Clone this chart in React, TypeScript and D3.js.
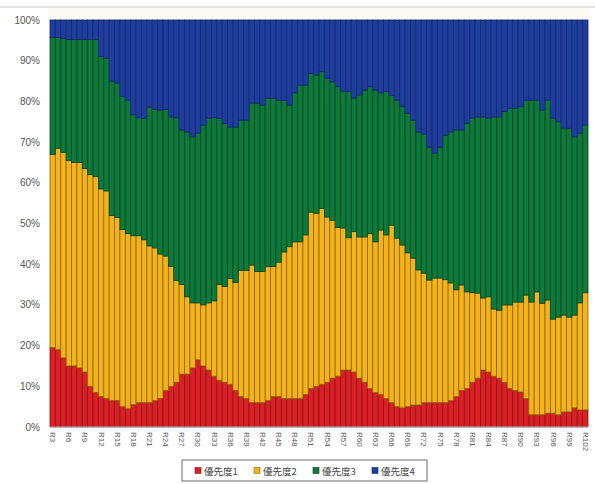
import React from "react";
import * as d3 from "d3";

// R3 .. R102
const categories = d3.range(3, 103).map(n => `R${n}`);
const seriesNames = ["優先度1", "優先度2", "優先度3", "優先度4"];

// share of each priority per period (%)
const prio1 = [
  19.5, 19, 17, 15, 15, 14.5, 13.5, 10, 8.5, 7.5, 7, 6.5, 6.5, 5, 4.5, 5.5, 6, 6, 6, 6.5,
  7, 9, 10, 11, 13, 13, 14.5, 16.5, 15, 14, 12.5, 11.5, 11, 10.5, 9, 7.5, 7, 6, 6, 6,
  6.5, 7.5, 7.5, 7, 7, 7, 7, 8, 9.5, 10, 10.5, 11, 12, 12.5, 14, 14, 13.5, 12, 11, 9.5,
  8.5, 8, 7, 6, 5, 4.7, 5, 5.4, 5.4, 6, 6, 6, 6, 6, 6.5, 7.5, 9, 9.5, 11, 12,
  14, 13.5, 12.5, 12, 11, 9.5, 9, 8.6, 7, 3, 3, 3, 3.4, 3.4, 3, 3.7, 3.7, 4.7, 4.2, 4.2,
];
const prio2 = [
  47.5, 49.5, 50.5, 50.5, 50, 50.5, 50, 52, 53, 51, 51, 45.5, 45, 43.5, 43, 41.5, 41, 40, 38.5, 37.5,
  35.5, 33, 29.5, 25, 22, 19, 16, 14, 15, 16.5, 18.5, 23.5, 23.5, 26, 26.5, 31, 31.5, 33.8, 32.2, 32.2,
  32.9, 31.9, 33, 36, 37.3, 38.5, 38.5, 39.2, 43.3, 42.5, 43.2, 40.6, 38.8, 36.5, 34.9, 32.5, 34.5, 34.7, 35.7, 38,
  37, 40.4, 40.2, 43.6, 41.4, 40, 37.8, 36.1, 33.2, 31.8, 30.1, 30.6, 30.6, 30.2, 28.9, 26.2, 25.9, 23.7, 22, 20.9,
  17.7, 18.5, 16.5, 16.7, 19, 20.5, 21.7, 22.1, 25.4, 27.7, 30.2, 27.4, 27.8, 23.1, 24, 23.8, 23.3, 22.8, 26.3, 28.8,
];
const prio3 = [
  28.7, 27.2, 28, 29.7, 30.2, 30.2, 31.7, 33.2, 33.7, 32.5, 32.6, 33, 33, 32.7, 32.8, 29.7, 29, 29.8, 34.1, 34,
  35.4, 36, 36.7, 40, 38, 40.5, 40.8, 41.7, 44.2, 45.4, 45, 40.8, 40.1, 37.2, 38.2, 36.9, 36.9, 39.8, 41.4, 40.9,
  41.4, 41.4, 39.8, 37.3, 34.8, 36.6, 38.5, 36.8, 34.1, 34, 33.6, 34.1, 34, 34.6, 33.6, 36, 32.8, 34.9, 36.1, 36.1,
  37.3, 33.7, 35.3, 31.9, 33.9, 34, 34.3, 33.9, 33.9, 34.2, 32.7, 30.7, 32.2, 35.5, 37.1, 39.3, 38.1, 41.4, 42.9, 43.3,
  44.5, 43.9, 47.2, 47.5, 47.5, 48.3, 47.6, 48, 47.9, 49.6, 47.1, 47.5, 49.1, 49.4, 48, 45.9, 46.4, 43.8, 41.7, 41.2,
];
const prio4 = [
  4.3, 4.3, 4.5, 4.8, 4.8, 4.8, 4.8, 4.8, 4.8, 9, 9.4, 15, 15.5, 18.8, 19.7, 23.3, 24, 24.2, 21.4, 22,
  22.1, 22, 23.8, 24, 27, 27.5, 28.7, 27.8, 25.8, 24.1, 24, 24.2, 25.4, 26.3, 26.3, 24.6, 24.6, 20.4, 20.4, 20.9,
  19.2, 19.2, 19.7, 19.7, 20.9, 17.9, 16, 16, 13.1, 13.5, 12.7, 14.3, 15.2, 16.4, 17.5, 17.5, 19.2, 18.4, 17.2, 16.4,
  17.2, 17.9, 17.5, 18.5, 19.7, 21.3, 22.9, 24.6, 27.5, 28, 31.2, 32.7, 31.2, 28.3, 27.5, 27, 27, 25.4, 24.1, 23.8,
  23.8, 24.1, 23.8, 23.8, 22.5, 21.7, 21.7, 21.3, 19.7, 19.7, 19.7, 22.1, 19.7, 24.1, 25, 26.6, 26.6, 28.7, 27.8, 25.8,
];
const yTicks = [0, 0.1, 0.2, 0.3, 0.4, 0.5, 0.6, 0.7, 0.8, 0.9, 1];

const fills = ["#dc1f27", "#f4b31a", "#0c7a3b", "#1f3d9d"];
const edges = ["#861613", "#8c640a", "#07431f", "#13276b"];

const W = 595;
const H = 484;
const margin = { top: 20, right: 7, bottom: 57, left: 50 };
const font = "'Liberation Sans', Arial, sans-serif";
const jpFont = "'Noto Sans CJK JP', sans-serif";

export default function App() {
  const table = categories.map((c, i) => ({
    cat: c, s0: prio1[i], s1: prio2[i], s2: prio3[i], s3: prio4[i],
  }));
  const keys = ["s0", "s1", "s2", "s3"];
  const stacked = d3.stack<any>().keys(keys).offset(d3.stackOffsetExpand)(table);

  const x = d3.scaleBand()
    .domain(categories)
    .range([margin.left, W - margin.right])
    .padding(0);
  const y = d3.scaleLinear()
    .domain([0, 1])
    .range([H - margin.bottom, margin.top]);
  const bw = x.bandwidth();
  const pct = d3.format(".0%");

  const legendX = [195, 254, 313, 372];

  return (
    <svg width={W} height={H} style={{ position: "absolute", left: 0, top: 0, background: "#fff" }}>
      {/* chart frame top */}
      <rect x={48} y={8} width={542} height={11} fill="#fcfbf1" />
      <line x1={0} x2={W} y1={7} y2={7} stroke="#c9c9c9" strokeWidth={1} />

      <g className="bars">
        {stacked.map((layer, k) => (
          <g key={k} fill={fills[k]} stroke={edges[k]} strokeWidth={0.8}>
            {layer.map((d: any, i: number) => (
              <rect
                key={i}
                x={x(d.data.cat)!}
                y={y(d[1])}
                width={bw}
                height={Math.max(0, y(d[0]) - y(d[1]))}
              />
            ))}
          </g>
        ))}
      </g>

      <line x1={margin.left} x2={W - margin.right} y1={y(0)} y2={y(0)} stroke="#b8c4c4" />

      <g className="gy" fontFamily={font} fontSize={10} fill="#555">
        {yTicks.map(t => (
          <text key={t} x={margin.left - 10} y={y(t)} textAnchor="end" dominantBaseline="central">
            {pct(t)}
          </text>
        ))}
      </g>

      <g className="gx" fontFamily={font} fontSize={8} fill="#555">
        {categories.map((c, i) =>
          i % 3 === 0 ? (
            <text
              key={c}
              transform={`translate(${x(c)! + bw / 2}, ${y(0) + 5}) rotate(90)`}
              textAnchor="start"
              dominantBaseline="central"
            >
              {c}
            </text>
          ) : null
        )}
      </g>

      <g className="legend">
        <rect x={182} y={460} width={245} height={21} fill="#fff" stroke="#8c8c8c" strokeWidth={1.3} />
        {seriesNames.map((n, k) => (
          <g key={n} transform={`translate(${legendX[k]}, 470.5)`}>
            <rect x={0} y={-3} width={6} height={6} fill={fills[k]} stroke={edges[k]} strokeWidth={0.6} />
            <text x={9} y={0} dominantBaseline="central" fontFamily={jpFont} fontSize={9.5} fill="#444">
              {n}
            </text>
          </g>
        ))}
      </g>
    </svg>
  );
}
